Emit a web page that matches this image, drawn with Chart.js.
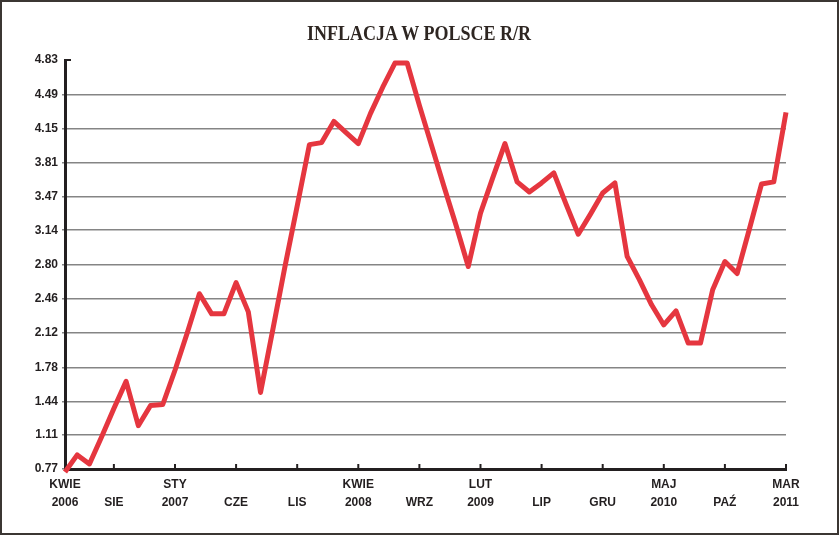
<!DOCTYPE html>
<html>
<head>
<meta charset="utf-8">
<script src="https://cdn.jsdelivr.net/npm/chart.js@4.4.1/dist/chart.umd.min.js"></script>
<style>
  html, body { margin: 0; padding: 0; background: #fff; }
  #wrap { position: relative; width: 840px; height: 535px; }
  #frame {
    position: absolute; left: 0; top: 0; width: 839px; height: 535px;
    box-sizing: border-box; border: 2px solid #3b3633; pointer-events: none;
  }
  #title {
    position: absolute; left: 0; top: 22px; width: 838px; text-align: center;
    font-family: "Liberation Serif", serif; font-weight: bold; font-size: 20px;
    color: #2e2622; transform: scaleX(0.9); transform-origin: 419px 0;
  }
</style>
</head>
<body>
<div id="wrap">
  <canvas id="inflationChart" width="840" height="535"></canvas>
  <div id="title">INFLACJA W POLSCE R/R</div>
  <div id="frame"></div>
</div>
<script>
// Monthly CPI y/y, April 2006 - March 2011
const monthNames = ['STY', 'LUT', 'MAR', 'KWIE', 'MAJ', 'CZE', 'LIP', 'SIE', 'WRZ', 'PAŹ', 'LIS', 'GRU'];
const years = [2006, 2007, 2008, 2009, 2010, 2011];

const inflation = [
  0.74, 0.91, 0.82, 1.09, 1.37, 1.64, 1.20, 1.40, 1.41, 1.75,
  2.12, 2.51, 2.31, 2.31, 2.62, 2.33, 1.53, 2.15, 2.78, 3.38,
  3.99, 4.01, 4.22, 4.11, 4.00, 4.30, 4.56, 4.80, 4.80, 4.38,
  3.98, 3.58, 3.19, 2.78, 3.31, 3.66, 4.00, 3.62, 3.52, 3.61,
  3.71, 3.40, 3.10, 3.30, 3.51, 3.61, 2.88, 2.65, 2.40, 2.20,
  2.34, 2.02, 2.02, 2.55, 2.83, 2.71, 3.15, 3.60, 3.62, 4.31
];

// x axis: which months get a tick, and what they say
const tickIndex = [0, 4, 9, 14, 19, 24, 29, 34, 39, 44, 49, 54, 59];
const tickLabels = [
  ['KWIE', '2006'], ['', 'SIE'], ['STY', '2007'], ['', 'CZE'], ['', 'LIS'],
  ['KWIE', '2008'], ['', 'WRZ'], ['LUT', '2009'], ['', 'LIP'], ['', 'GRU'],
  ['MAJ', '2010'], ['', 'PAŹ'], ['MAR', '2011']
];

// y axis tick values
const yTicks = [0.77, 1.11, 1.44, 1.78, 2.12, 2.46, 2.80, 3.14, 3.47, 3.81, 4.15, 4.49, 4.83];

// month labels for the category axis
const months = [];
years.forEach(y => {
  monthNames.forEach((m, i) => {
    if ((y === 2006 && i < 3) || (y === 2011 && i > 2)) return;
    months.push(m + ' ' + y);
  });
});

const axisColor = '#231f20';
const gridColor = '#858585';

// short tick marks standing up from the x axis, and the small cap at the top of the y axis
const axisMarks = {
  id: 'axisMarks',
  beforeDatasetsDraw(chart) {
    const { ctx, chartArea, scales: { x, y } } = chart;
    ctx.save();
    ctx.strokeStyle = axisColor;
    ctx.lineWidth = 2;
    x.ticks.forEach((t, i) => {
      const px = x.getPixelForTick(i);
      ctx.beginPath();
      ctx.moveTo(px, chartArea.bottom);
      ctx.lineTo(px, chartArea.bottom - 5);
      ctx.stroke();
    });
    const top = y.getPixelForValue(yTicks[yTicks.length - 1]);
    ctx.beginPath();
    ctx.moveTo(chartArea.left - 1, top);
    ctx.lineTo(chartArea.left + 6, top);
    ctx.stroke();
    ctx.restore();
  }
};

const ctx = document.getElementById('inflationChart').getContext('2d');
new Chart(ctx, {
  type: 'line',
  data: {
    labels: months,
    datasets: [{
      label: 'Inflacja r/r',
      data: inflation,
      borderColor: '#e5363f',
      borderWidth: 5,
      borderJoinStyle: 'round',
      tension: 0,
      pointRadius: 0,
      clip: false
    }]
  },
  options: {
    responsive: false,
    animation: false,
    layout: { padding: { left: 0, right: 54, top: 60, bottom: 0 } },
    plugins: {
      legend: { display: false },
      tooltip: { enabled: false },
      title: { display: false }
    },
    scales: {
      x: {
        type: 'category',
        offset: false,
        afterBuildTicks(scale) {
          scale.ticks = tickIndex.map(i => ({ value: i }));
        },
        afterFit(scale) { scale.height = 66; },
        grid: { display: true, drawOnChartArea: false, drawTicks: false },
        border: { display: true, color: axisColor, width: 3 },
        ticks: {
          autoSkip: false,
          maxRotation: 0,
          padding: 7,
          color: axisColor,
          font: { family: '"Liberation Sans", Arial, sans-serif', size: 12, weight: 'bold', lineHeight: 1.5 },
          callback(value) {
            return tickLabels[tickIndex.indexOf(value)];
          }
        }
      },
      y: {
        min: yTicks[0],
        max: yTicks[yTicks.length - 1],
        afterBuildTicks(scale) {
          scale.ticks = yTicks.map(v => ({ value: v }));
        },
        afterFit(scale) { scale.width = 65; },
        grid: {
          color: ctx => (ctx.tick && ctx.tick.value === yTicks[yTicks.length - 1]) ? 'rgba(0,0,0,0)' : gridColor,
          lineWidth: 1.5,
          tickLength: 3
        },
        border: { display: true, color: axisColor, width: 3 },
        ticks: {
          padding: 4,
          color: axisColor,
          font: { family: '"Liberation Sans", Arial, sans-serif', size: 12, weight: 'bold' },
          callback(value) { return value.toFixed(2); }
        }
      }
    }
  },
  plugins: [axisMarks]
});
</script>
</body>
</html>
